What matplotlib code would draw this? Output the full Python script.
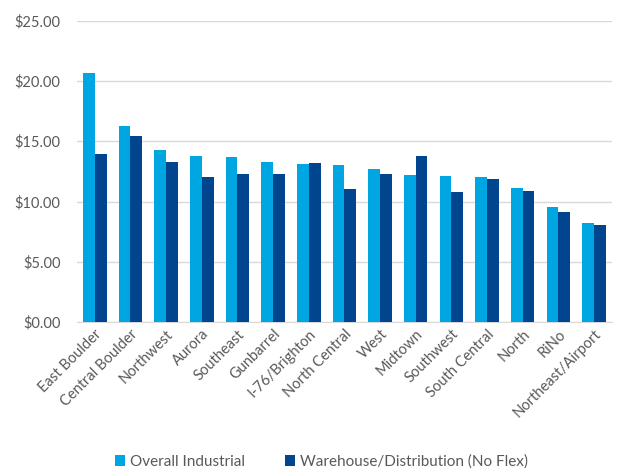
import numpy as np
import matplotlib.pyplot as plt
from matplotlib.ticker import FuncFormatter

submarkets = ['East Boulder', 'Central Boulder', 'Northwest', 'Aurora', 'Southeast',
              'Gunbarrel', 'I-76/Brighton', 'North Central', 'West', 'Midtown',
              'Southwest', 'South Central', 'North', 'RiNo', 'Northeast/Airport']
overall = [20.65, 16.30, 14.30, 13.74, 13.70, 13.27, 13.10, 13.00, 12.66, 12.19,
           12.13, 12.02, 11.11, 9.54, 8.21]
warehouse = [13.90, 15.40, 13.27, 12.00, 12.25, 12.25, 13.16, 11.00, 12.25, 13.74,
             10.78, 11.86, 10.89, 9.10, 8.02]

light = '#00A6E2'
dark = '#00458E'
grey = '#595959'

plt.rcParams['font.family'] = ['Lato', 'DejaVu Sans']

fig = plt.figure(figsize=(6.18, 4.71), dpi=100)
ax = fig.add_axes([0.1246, 0.316, 0.8654, 0.6404])

x = np.arange(len(submarkets))
w = 0.33
ax.bar(x - w / 2, overall, w, color=light, label='Overall Industrial', zorder=3)
ax.bar(x + w / 2, warehouse, w, color=dark, label='Warehouse/Distribution (No Flex)', zorder=3)

ax.set_xlim(-0.5, len(submarkets) - 0.5)
ax.set_ylim(0, 25)
ax.set_yticks(np.arange(0, 26, 5))
ax.yaxis.set_major_formatter(FuncFormatter(lambda v, p: f'${v:.2f}'))
ax.grid(axis='y', color='#D9D9D9', linewidth=1, zorder=0)

for s in ['top', 'right', 'left']:
    ax.spines[s].set_visible(False)
ax.spines['bottom'].set_color('#D9D9D9')
ax.tick_params(axis='both', length=0, colors=grey, labelsize=10.5)
ax.tick_params(axis='y', pad=12)
ax.set_xticks(x)
ax.set_xticklabels(submarkets, rotation=45, ha='right', rotation_mode='anchor')

fig.legend(loc='center', bbox_to_anchor=(0.52, 0.02), ncol=2, frameon=False,
           fontsize=11, labelcolor=grey, handlelength=0.7, handleheight=0.7,
           handletextpad=0.3, columnspacing=2.6)

fig.savefig('out.png', dpi=100)
